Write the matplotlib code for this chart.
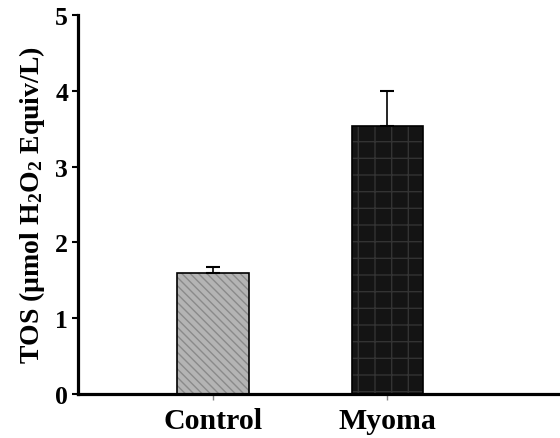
import numpy as np
import matplotlib
matplotlib.use('Agg')
import matplotlib.pyplot as plt

groups = ["Control", "Myoma"]
tos_mean = [1.60, 3.53]
tos_err = [0.08, 0.47]
y_ticks = [0, 1, 2, 3, 4, 5]

plt.rcParams.update({
    "font.family": "Liberation Serif",
    "font.weight": "bold",
    "mathtext.fontset": "custom",
    "mathtext.rm": "Liberation Serif:bold",
    "mathtext.it": "Liberation Serif:bold",
    "mathtext.bf": "Liberation Serif:bold",
    "hatch.linewidth": 1.0,
})

fig = plt.figure(figsize=(5.6, 4.39), dpi=100)
ax = fig.add_axes([0.139, 0.1002, 0.861, 0.8634])

x = np.arange(len(groups))
width = 0.41

# fill + hatch drawn first, outline on top
ax.bar(x[0], tos_mean[0], width, color="#b4b4b4", edgecolor="#8a8a8a",
       hatch="\\\\\\\\", linewidth=0, zorder=2)
ax.bar(x[1], tos_mean[1], width, color="#141414", edgecolor="#333333",
       hatch="+", linewidth=0, zorder=2)
ax.bar(x, tos_mean, width, facecolor="none", edgecolor="black",
       linewidth=1.2, zorder=3)

ax.errorbar(x, tos_mean, yerr=[np.zeros(len(x)), tos_err], fmt="none",
            ecolor="black", elinewidth=1.2, capsize=5, capthick=1.5, zorder=4)

ax.set_xlim(-0.776, 1.99)
ax.set_ylim(0, 5)
ax.set_yticks(y_ticks)
ax.set_xticks(x)
ax.set_xticklabels(groups, fontsize=21.5, fontweight="bold")
ax.tick_params(axis="y", labelsize=18.5, length=4, width=1.5, direction="out", pad=3)
ax.tick_params(axis="x", length=4, width=1, color="#888888", pad=5.5)
for lbl in ax.get_yticklabels():
    lbl.set_fontweight("bold")

ax.set_ylabel(r"TOS (µmol H$_2$O$_2$ Equiv/L)", fontsize=20, fontweight="bold", labelpad=6)

for side in ["top", "right"]:
    ax.spines[side].set_visible(False)
for side in ["left", "bottom"]:
    ax.spines[side].set_linewidth(2.3)

fig.savefig("out.png", dpi=100)
